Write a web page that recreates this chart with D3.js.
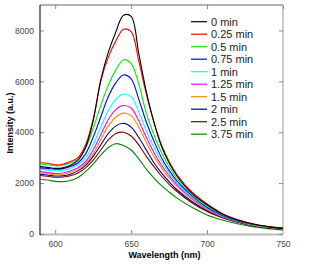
<!DOCTYPE html>
<html>
<head>
<meta charset="utf-8">
<script src="https://cdn.jsdelivr.net/npm/d3@7/dist/d3.min.js"></script>
<style>
  body { margin: 0; background: #fff; }
  svg { display: block; font-family: "Liberation Sans", Arial, sans-serif; }
</style>
</head>
<body>
<div id="chart"></div>
<script>
// Data

var wavelengths = [590, 595, 600, 605, 610, 615, 620, 625, 630, 635, 640, 645, 650, 655, 660, 665, 670, 675, 680, 690, 700, 710, 720, 730, 740, 750];

var labels = ["0 min", "0.25 min", "0.5 min", "0.75 min", "1 min", "1.25 min", "1.5 min", "2 min", "2.5 min", "3.75 min"];

var colors = ["#000000", "#ff0000", "#00ee00", "#0000ff", "#00ffff", "#ff00ff", "#ff8c00", "#000080", "#800000", "#008800"];

var s0   = [2650, 2620, 2580, 2600, 2700, 2900, 3400, 4450, 6050, 7150, 7950, 8600, 8550, 7100, 5600, 4400, 3450, 2800, 2300, 1600, 1150, 790, 550, 390, 290, 220];
var s025 = [2800, 2780, 2720, 2740, 2850, 3000, 3500, 4500, 6000, 6950, 7600, 8050, 7950, 6800, 5500, 4400, 3500, 2850, 2350, 1650, 1180, 810, 570, 400, 290, 230];
var s05  = [2750, 2720, 2680, 2700, 2800, 2950, 3380, 4150, 5050, 5850, 6450, 6850, 6700, 5900, 4750, 3900, 3200, 2650, 2200, 1550, 1100, 770, 540, 390, 280, 220];
var s075 = [2600, 2580, 2550, 2570, 2650, 2800, 3150, 3800, 4600, 5400, 5950, 6250, 6100, 5300, 4400, 3650, 3000, 2500, 2100, 1500, 1050, 740, 520, 380, 280, 220];
var s1   = [2550, 2520, 2480, 2500, 2580, 2720, 3000, 3500, 4200, 4850, 5300, 5500, 5400, 4800, 4050, 3400, 2850, 2400, 2020, 1450, 1020, 720, 510, 370, 270, 210];
var s125 = [2450, 2420, 2380, 2400, 2480, 2600, 2850, 3300, 3900, 4500, 4900, 5050, 4950, 4450, 3800, 3200, 2700, 2300, 1950, 1400, 990, 700, 500, 360, 265, 205];
var s15  = [2400, 2370, 2330, 2350, 2420, 2550, 2780, 3150, 3700, 4250, 4600, 4750, 4650, 4200, 3600, 3050, 2600, 2200, 1880, 1350, 960, 680, 490, 350, 260, 200];
var s2   = [2350, 2320, 2280, 2290, 2350, 2480, 2700, 3050, 3500, 3950, 4250, 4350, 4200, 3800, 3300, 2800, 2400, 2050, 1750, 1280, 920, 660, 470, 340, 250, 200];
var s25  = [2300, 2270, 2230, 2240, 2290, 2400, 2600, 2900, 3300, 3700, 3950, 4000, 3850, 3500, 3050, 2650, 2280, 1950, 1680, 1230, 880, 640, 460, 330, 240, 190];
var s375 = [2150, 2120, 2070, 2060, 2100, 2220, 2450, 2750, 3100, 3400, 3550, 3480, 3300, 2950, 2550, 2200, 1900, 1650, 1420, 1050, 750, 550, 400, 290, 210, 160];

var series = [s0, s025, s05, s075, s1, s125, s15, s2, s25, s375];

var xTicks = [600, 650, 700, 750];
var yTicks = [0, 2000, 4000, 6000, 8000];

var W = 316, H = 270;
var margin = {top: 5, right: 33, bottom: 36, left: 40};
var width = W - margin.left - margin.right;
var height = H - margin.top - margin.bottom;

var x = d3.scaleLinear().domain([590, 750]).range([0, width]);
var y = d3.scaleLinear().domain([0, 9000]).range([height, 0]);

var svg = d3.select("#chart").append("svg")
    .attr("width", W)
    .attr("height", H);

svg.append("defs").append("clipPath")
    .attr("id", "clip")
    .append("rect")
    .attr("width", width)
    .attr("height", height);

var g = svg.append("g")
    .attr("transform", "translate(" + margin.left + "," + margin.top + ")");

// frame
g.append("line").attr("x1", 0).attr("x2", width).attr("y1", 0).attr("y2", 0)
    .attr("stroke", "#666").attr("stroke-width", 1);
g.append("line").attr("x1", width).attr("x2", width).attr("y1", 0).attr("y2", height)
    .attr("stroke", "#999").attr("stroke-width", 1);
g.append("line").attr("x1", 0).attr("x2", width).attr("y1", height + 0.5).attr("y2", height + 0.5)
    .attr("stroke", "#bbb").attr("stroke-width", 2);

// axes (ticks point inside)
var xAxis = d3.axisBottom(x).tickValues(xTicks).tickSize(-4).tickPadding(7).tickSizeOuter(0);
var xAxisTop = d3.axisTop(x).tickValues(xTicks).tickSize(-4).tickFormat("").tickSizeOuter(0);
var yAxis = d3.axisLeft(y).tickValues(yTicks).tickSize(-4).tickPadding(6).tickSizeOuter(0)
    .tickFormat(d3.format("d"));
var yAxisRight = d3.axisRight(y).tickValues(yTicks).tickSize(-4).tickFormat("").tickSizeOuter(0);

var gx = g.append("g").attr("transform", "translate(0," + height + ")").call(xAxis);
var gxt = g.append("g").call(xAxisTop);
var gy = g.append("g").call(yAxis);
var gyr = g.append("g").attr("transform", "translate(" + width + ",0)").call(yAxisRight);

[gx, gxt, gy, gyr].forEach(function(a) {
  a.select(".domain").remove();
  a.selectAll(".tick line").attr("stroke", "#888");
  a.selectAll(".tick text").attr("fill", "#444").style("font-size", "8.5px")
    .style("font-family", "'Liberation Sans', Arial, sans-serif");
});
gx.selectAll(".tick:last-child line").remove();

// left axis line
g.append("line").attr("x1", 0).attr("x2", 0).attr("y1", 0).attr("y2", height + 1)
    .attr("stroke", "#222").attr("stroke-width", 1.2);

// spectra
var line = d3.line()
    .x(function(d, i) { return x(wavelengths[i]); })
    .y(function(d) { return y(d); })
    .curve(d3.curveCatmullRom.alpha(0.5));

var lines = g.append("g").attr("clip-path", "url(#clip)");

lines.selectAll("path")
    .data(series.slice().reverse())
    .enter().append("path")
    .attr("d", line)
    .attr("fill", "none")
    .attr("stroke", function(d, i) { return colors[series.length - 1 - i]; })
    .attr("stroke-width", 1.1);

// legend
var legend = svg.append("g").attr("transform", "translate(191,21.7)");
var rows = legend.selectAll("g")
    .data(labels)
    .enter().append("g")
    .attr("transform", function(d, i) { return "translate(0," + (i * 12.5) + ")"; });
rows.append("line")
    .attr("x1", 0).attr("x2", 16)
    .attr("stroke", function(d, i) { return colors[i]; })
    .attr("stroke-width", 1.2);
rows.append("text")
    .attr("x", 20)
    .attr("dy", "0.35em")
    .style("font-size", "11px")
    .attr("fill", "#222")
    .text(function(d) { return d; });

// axis titles
svg.append("text")
    .attr("x", margin.left + width / 2 + 3)
    .attr("y", 258)
    .attr("text-anchor", "middle")
    .style("font-size", "9px")
    .style("font-weight", "bold")
    .text("Wavelength (nm)");

svg.append("text")
    .attr("transform", "translate(13,123) rotate(-90)")
    .attr("text-anchor", "middle")
    .style("font-size", "9px")
    .style("font-weight", "bold")
    .text("Intensity (a.u.)");
</script>
</body>
</html>
